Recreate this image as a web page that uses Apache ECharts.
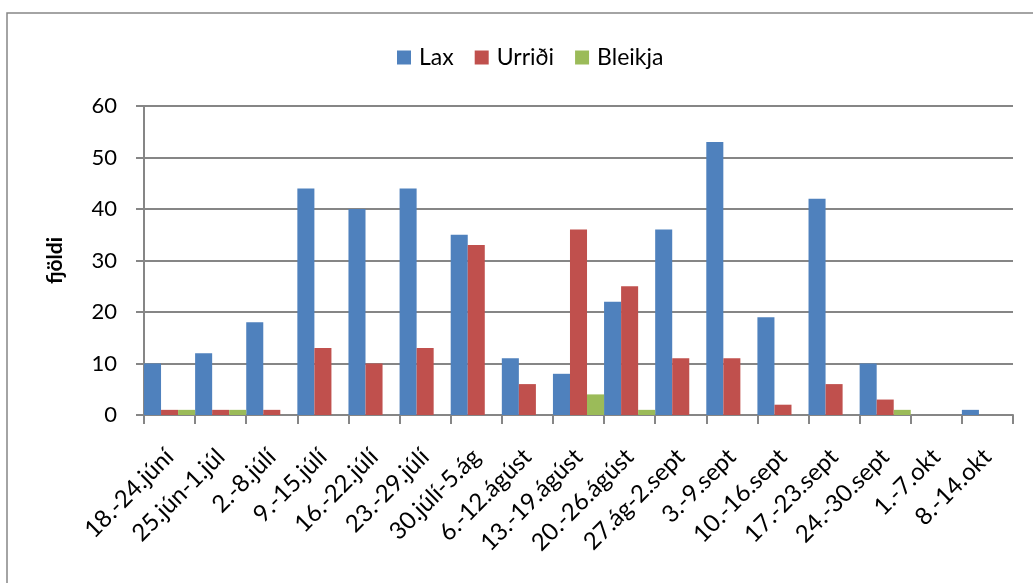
<!DOCTYPE html>
<html>
<head>
<meta charset="utf-8">
<script src="https://cdn.jsdelivr.net/npm/echarts@6/dist/echarts.min.js"></script>
<style>
html, body { margin: 0; padding: 0; background: #fff; }
#chart { width: 1033px; height: 583px; }
</style>
</head>
<body>
<div id="chart"></div>
<script>
const categories = ['18.-24.júní', '25.jún-1.júl', '2.-8.júlí', '9.-15.júlí', '16.-22.júlí', '23.-29.júlí',
    '30.júlí-5.ág', '6.-12.ágúst', '13.-19.ágúst', '20.-26.ágúst', '27.ág-2.sept', '3.-9.sept',
    '10.-16.sept', '17.-23.sept', '24.-30.sept', '1.-7.okt', '8.-14.okt'];
const lax = [10, 12, 18, 44, 40, 44, 35, 11, 8, 22, 36, 53, 19, 42, 10, 0, 1];
const urridi = [1, 1, 1, 13, 10, 13, 33, 6, 36, 25, 11, 11, 2, 6, 3, 0, 0];
const bleikja = [1, 1, 0, 0, 0, 0, 0, 0, 4, 1, 0, 0, 0, 0, 1, 0, 0];
const seriesNames = ['Lax', 'Urriði', 'Bleikja'];
const colorList = ['#4F81BD', '#C0504D', '#9BBB59'];

const font = 'Lato, "Open Sans", sans-serif';
const chart = echarts.init(document.getElementById('chart'));

chart.setOption({
    animation: false,
    color: colorList,
    graphic: [{
        type: 'rect',
        shape: { x: 7, y: 13, width: 1040, height: 600 },
        style: { fill: 'none', stroke: '#868686', lineWidth: 1.5 },
        silent: true
    }],
    legend: {
        data: seriesNames,
        top: 41,
        left: 392,
        itemWidth: 14,
        itemHeight: 14,
        itemGap: 21,
        icon: 'rect',
        textStyle: { fontFamily: font, fontSize: 23, color: '#000', padding: [0, 0, 0, 3] }
    },
    grid: { left: 144, right: 20, top: 106, bottom: 168 },
    xAxis: {
        type: 'category',
        data: categories,
        axisLine: { lineStyle: { color: '#868686', width: 2 } },
        axisTick: { show: true, length: 9, lineStyle: { color: '#868686', width: 2 } },
        axisLabel: {
            rotate: 45,
            margin: 38,
            interval: 0,
            align: 'right',
            verticalAlign: 'middle',
            fontFamily: font,
            fontSize: 24,
            color: '#000'
        }
    },
    yAxis: {
        type: 'value',
        min: 0,
        max: 60,
        interval: 10,
        name: 'fjöldi',
        nameLocation: 'middle',
        nameRotate: 90,
        nameGap: 78,
        nameTextStyle: { fontFamily: font, fontSize: 21, fontWeight: 'bold', color: '#000' },
        axisLine: { show: true, lineStyle: { color: '#868686', width: 2 } },
        axisTick: { show: true, length: 8, lineStyle: { color: '#868686', width: 2 } },
        axisLabel: { margin: 27, fontFamily: font, fontSize: 22, color: '#000' },
        splitLine: { lineStyle: { color: '#868686', width: 2 } }
    },
    series: [lax, urridi, bleikja].map((d, i) => ({
        name: seriesNames[i],
        type: 'bar',
        data: d,
        barGap: '0%',
        barCategoryGap: '0%',
        itemStyle: { color: colorList[i] }
    }))
});
</script>
</body>
</html>
